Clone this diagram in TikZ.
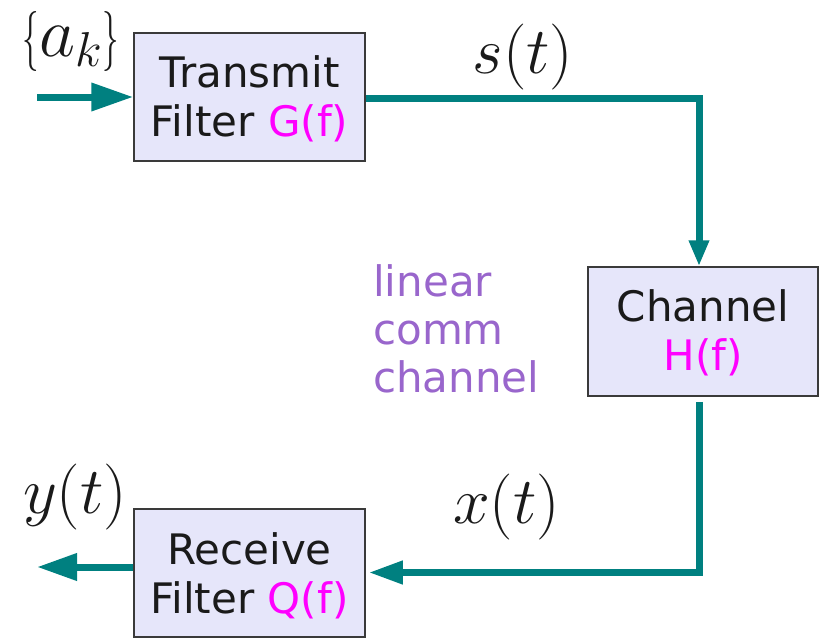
\RequirePackage{fix-cm}
\documentclass[tikz,border=0pt]{standalone}
\usepackage[no-math]{fontspec}
\setmainfont{DejaVu Sans}
\usetikzlibrary{arrows.meta}
\definecolor{tealc}{HTML}{008080}
\definecolor{magc}{HTML}{FF00FF}
\definecolor{purc}{HTML}{9966CC}
\definecolor{boxfill}{HTML}{E6E6FA}
\definecolor{boxdraw}{HTML}{3A3A3A}
\definecolor{txtc}{HTML}{1A1A1A}
\newcommand{\nbrace}[1]{{\fontsize{60}{72}\selectfont\scalebox{0.55}[1]{$#1$}}}
\begin{document}
\begin{tikzpicture}[x=1pt,y=-1pt,
  blk/.style={draw=boxdraw,line width=1.5pt,fill=boxfill,minimum width=231pt,minimum height=128pt,inner sep=0pt},
  blktext/.style={align=center,inner sep=0pt,text=txtc,font=\fontsize{42}{49}\selectfont},
  conn/.style={draw=tealc,line width=7pt},
  mathlbl/.style={inner sep=0pt,anchor=base,text=txtc,font=\fontsize{66}{78}\selectfont}]
\useasboundingbox (0,0) rectangle (821,637);
\clip (0,0) rectangle (821,637);
% blocks
\node[blk] (tx) at (249.5,97) {};
\node[blk,minimum width=230pt,minimum height=129pt] (ch) at (703,331.5) {};
\node[blk] (rx) at (249.5,573) {};
\node[blktext] (txl) at ([yshift=-2.25pt]tx.center) {Transmit\\Filter \textcolor{magc}{G(f)}};
\node[blktext] (chl) at ([yshift=-1.75pt]ch.center) {Channel\\\textcolor{magc}{H(f)}};
\node[blktext] (rxl) at ([yshift=-3.25pt]rx.center) {Receive\\Filter \textcolor{magc}{Q(f)}};
% free ends
\coordinate (in0) at (37,97);
\coordinate (out0) at (37,567);
% connectors
\draw[conn,-{Triangle[length=42pt,width=27pt]}] (in0) -- (tx.west);
\draw[conn,-{Triangle[length=26pt,width=19pt]}] ([yshift=-1.5pt]tx.east) -| ([xshift=-4pt]ch.north);
\draw[conn,-{Triangle[length=34pt,width=22pt]},shorten >=3pt] ([xshift=-4pt,yshift=-5pt]ch.south) |- ([yshift=0.5pt]rx.east);
\draw[conn,-{Triangle[length=40pt,width=26pt]}] ([yshift=6pt]rx.west) -- (out0);
% labels
\node[mathlbl,font=\fontsize{70}{84}\selectfont] (ak) at (71,56) {\nbrace{\{}$a_k$\nbrace{\}}};
\node[mathlbl] (st) at (523,73) {$s(t)$};
\node[mathlbl] (xt) at (506.5,523) {$x(t)$};
\node[mathlbl] (yt) at (75,513) {$y(t)$};
\node[anchor=west,align=left,inner sep=0pt,text=purc,font=\fontsize{42}{48}\selectfont] (lcc) at (373,329) {linear\\comm\\channel};
\end{tikzpicture}
\end{document}
